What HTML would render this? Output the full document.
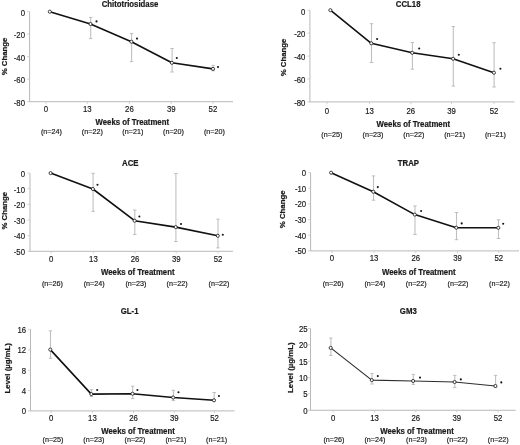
<!DOCTYPE html>
<html><head><meta charset="utf-8"><style>
html,body{margin:0;padding:0;background:#fff;}
svg{display:block;will-change:transform;}
text{font-family:"Liberation Sans", sans-serif;fill:#1a1a1a;}
text{stroke:#1a1a1a;stroke-width:0.18px;}
text.b{stroke:#1a1a1a;stroke-width:0.22px;}
</style></head><body>
<svg width="520" height="445" viewBox="0 0 520 445">
<rect width="520" height="445" fill="#fff"/>
<line x1="29.6" y1="11.6" x2="29.6" y2="101.7" stroke="#b8b8b8" stroke-width="1"/>
<line x1="29.1" y1="101.7" x2="233.0" y2="101.7" stroke="#b8b8b8" stroke-width="1"/>
<line x1="27.1" y1="11.60" x2="29.6" y2="11.60" stroke="#c8c8c8" stroke-width="0.8"/>
<text transform="translate(25.00,15.87) scale(0.92,1)" text-anchor="end" font-size="8.48">0</text>
<line x1="27.1" y1="34.12" x2="29.6" y2="34.12" stroke="#c8c8c8" stroke-width="0.8"/>
<text transform="translate(25.00,38.39) scale(0.92,1)" text-anchor="end" font-size="8.48">-20</text>
<line x1="27.1" y1="56.65" x2="29.6" y2="56.65" stroke="#c8c8c8" stroke-width="0.8"/>
<text transform="translate(25.00,60.92) scale(0.92,1)" text-anchor="end" font-size="8.48">-40</text>
<line x1="27.1" y1="79.17" x2="29.6" y2="79.17" stroke="#c8c8c8" stroke-width="0.8"/>
<text transform="translate(25.00,83.44) scale(0.92,1)" text-anchor="end" font-size="8.48">-60</text>
<line x1="27.1" y1="101.70" x2="29.6" y2="101.70" stroke="#c8c8c8" stroke-width="0.8"/>
<text transform="translate(25.00,105.97) scale(0.92,1)" text-anchor="end" font-size="8.48">-80</text>
<line x1="46.0" y1="101.7" x2="46.0" y2="103.9" stroke="#c8c8c8" stroke-width="0.8"/>
<text transform="translate(46.00,111.50) scale(0.92,1)" text-anchor="middle" font-size="8.48">0</text>
<line x1="87.3" y1="101.7" x2="87.3" y2="103.9" stroke="#c8c8c8" stroke-width="0.8"/>
<text transform="translate(87.30,111.50) scale(0.92,1)" text-anchor="middle" font-size="8.48">13</text>
<line x1="129.4" y1="101.7" x2="129.4" y2="103.9" stroke="#c8c8c8" stroke-width="0.8"/>
<text transform="translate(129.40,111.50) scale(0.92,1)" text-anchor="middle" font-size="8.48">26</text>
<line x1="171.2" y1="101.7" x2="171.2" y2="103.9" stroke="#c8c8c8" stroke-width="0.8"/>
<text transform="translate(171.20,111.50) scale(0.92,1)" text-anchor="middle" font-size="8.48">39</text>
<line x1="212.9" y1="101.7" x2="212.9" y2="103.9" stroke="#c8c8c8" stroke-width="0.8"/>
<text transform="translate(212.90,111.50) scale(0.92,1)" text-anchor="middle" font-size="8.48">52</text>
<text transform="translate(130.00,7.00) scale(0.94,1)" text-anchor="middle" font-size="8.30" font-weight="bold" class="b">Chitotriosidase</text>
<text transform="translate(132.30,124.60) scale(0.94,1)" text-anchor="middle" font-size="8.30" font-weight="bold" class="b">Weeks of Treatment</text>
<text transform="translate(51.45,134.20) scale(0.92,1)" text-anchor="middle" font-size="7.83">(n=24)</text>
<text transform="translate(92.30,134.20) scale(0.92,1)" text-anchor="middle" font-size="7.83">(n=22)</text>
<text transform="translate(132.85,134.20) scale(0.92,1)" text-anchor="middle" font-size="7.83">(n=21)</text>
<text transform="translate(173.50,134.20) scale(0.92,1)" text-anchor="middle" font-size="7.83">(n=20)</text>
<text transform="translate(214.40,134.20) scale(0.92,1)" text-anchor="middle" font-size="7.83">(n=20)</text>
<text transform="translate(6.9,56.5) rotate(-90)" text-anchor="middle" font-size="7.8" font-weight="bold" class="b">% Change</text>
<path d="M90.70 17.4 V38.6" stroke="#c0c0c0" stroke-width="1.1" fill="none"/>
<path d="M89.00 17.4 h3.4 M89.00 38.6 h3.4" stroke="#b8b8b8" stroke-width="0.9" fill="none"/>
<path d="M131.60 33.6 V61.6" stroke="#c0c0c0" stroke-width="1.1" fill="none"/>
<path d="M129.90 33.6 h3.4 M129.90 61.6 h3.4" stroke="#b8b8b8" stroke-width="0.9" fill="none"/>
<path d="M172.10 48.5 V72.0" stroke="#c0c0c0" stroke-width="1.1" fill="none"/>
<path d="M170.40 48.5 h3.4 M170.40 72.0 h3.4" stroke="#b8b8b8" stroke-width="0.9" fill="none"/>
<path d="M213.20 65.4 V70.8" stroke="#c0c0c0" stroke-width="1.1" fill="none"/>
<path d="M211.50 65.4 h3.4 M211.50 70.8 h3.4" stroke="#b8b8b8" stroke-width="0.9" fill="none"/>
<path d="M49.8 11.7 L90.5 24.0 L131.4 41.7 L171.9 62.8 L213.0 68.9" stroke="#111" stroke-width="1.6" fill="none" stroke-linejoin="round"/>
<circle cx="49.8" cy="11.7" r="1.55" fill="#fff" stroke="#1e1e1e" stroke-width="0.85"/>
<circle cx="90.5" cy="24.0" r="1.55" fill="#fff" stroke="#1e1e1e" stroke-width="0.85"/>
<circle cx="131.4" cy="41.7" r="1.55" fill="#fff" stroke="#1e1e1e" stroke-width="0.85"/>
<circle cx="171.9" cy="62.8" r="1.55" fill="#fff" stroke="#1e1e1e" stroke-width="0.85"/>
<circle cx="213.0" cy="68.9" r="1.55" fill="#fff" stroke="#1e1e1e" stroke-width="0.85"/>
<circle cx="96.5" cy="21.4" r="1.05" fill="#151515"/>
<circle cx="137.0" cy="38.6" r="1.05" fill="#151515"/>
<circle cx="176.8" cy="58.0" r="1.05" fill="#151515"/>
<circle cx="218.0" cy="67.0" r="1.05" fill="#151515"/>
<line x1="309.9" y1="10.25" x2="309.9" y2="101.9" stroke="#b8b8b8" stroke-width="1"/>
<line x1="309.4" y1="101.9" x2="514.5" y2="101.9" stroke="#b8b8b8" stroke-width="1"/>
<line x1="307.4" y1="10.25" x2="309.9" y2="10.25" stroke="#c8c8c8" stroke-width="0.8"/>
<text transform="translate(305.40,14.52) scale(0.92,1)" text-anchor="end" font-size="8.48">0</text>
<line x1="307.4" y1="33.16" x2="309.9" y2="33.16" stroke="#c8c8c8" stroke-width="0.8"/>
<text transform="translate(305.40,37.43) scale(0.92,1)" text-anchor="end" font-size="8.48">-20</text>
<line x1="307.4" y1="56.08" x2="309.9" y2="56.08" stroke="#c8c8c8" stroke-width="0.8"/>
<text transform="translate(305.40,60.34) scale(0.92,1)" text-anchor="end" font-size="8.48">-40</text>
<line x1="307.4" y1="78.99" x2="309.9" y2="78.99" stroke="#c8c8c8" stroke-width="0.8"/>
<text transform="translate(305.40,83.25) scale(0.92,1)" text-anchor="end" font-size="8.48">-60</text>
<line x1="307.4" y1="101.90" x2="309.9" y2="101.90" stroke="#c8c8c8" stroke-width="0.8"/>
<text transform="translate(305.40,106.17) scale(0.92,1)" text-anchor="end" font-size="8.48">-80</text>
<line x1="327.0" y1="101.9" x2="327.0" y2="104.10000000000001" stroke="#c8c8c8" stroke-width="0.8"/>
<text transform="translate(327.00,114.00) scale(0.92,1)" text-anchor="middle" font-size="8.48">0</text>
<line x1="369.5" y1="101.9" x2="369.5" y2="104.10000000000001" stroke="#c8c8c8" stroke-width="0.8"/>
<text transform="translate(369.50,114.00) scale(0.92,1)" text-anchor="middle" font-size="8.48">13</text>
<line x1="410.8" y1="101.9" x2="410.8" y2="104.10000000000001" stroke="#c8c8c8" stroke-width="0.8"/>
<text transform="translate(410.80,114.00) scale(0.92,1)" text-anchor="middle" font-size="8.48">26</text>
<line x1="451.5" y1="101.9" x2="451.5" y2="104.10000000000001" stroke="#c8c8c8" stroke-width="0.8"/>
<text transform="translate(451.50,114.00) scale(0.92,1)" text-anchor="middle" font-size="8.48">39</text>
<line x1="494.0" y1="101.9" x2="494.0" y2="104.10000000000001" stroke="#c8c8c8" stroke-width="0.8"/>
<text transform="translate(494.00,114.00) scale(0.92,1)" text-anchor="middle" font-size="8.48">52</text>
<text transform="translate(408.20,6.80) scale(0.94,1)" text-anchor="middle" font-size="8.30" font-weight="bold" class="b">CCL18</text>
<text transform="translate(413.25,126.90) scale(0.94,1)" text-anchor="middle" font-size="8.30" font-weight="bold" class="b">Weeks of Treatment</text>
<text transform="translate(331.85,137.20) scale(0.92,1)" text-anchor="middle" font-size="7.83">(n=25)</text>
<text transform="translate(373.00,137.20) scale(0.92,1)" text-anchor="middle" font-size="7.83">(n=23)</text>
<text transform="translate(413.80,137.20) scale(0.92,1)" text-anchor="middle" font-size="7.83">(n=22)</text>
<text transform="translate(454.70,137.20) scale(0.92,1)" text-anchor="middle" font-size="7.83">(n=21)</text>
<text transform="translate(495.45,137.20) scale(0.92,1)" text-anchor="middle" font-size="7.83">(n=21)</text>
<text transform="translate(285.7,57.5) rotate(-90)" text-anchor="middle" font-size="7.8" font-weight="bold" class="b">% Change</text>
<path d="M371.50 23.7 V62.5" stroke="#c0c0c0" stroke-width="1.1" fill="none"/>
<path d="M369.80 23.7 h3.4 M369.80 62.5 h3.4" stroke="#b8b8b8" stroke-width="0.9" fill="none"/>
<path d="M412.40 42.5 V69.2" stroke="#c0c0c0" stroke-width="1.1" fill="none"/>
<path d="M410.70 42.5 h3.4 M410.70 69.2 h3.4" stroke="#b8b8b8" stroke-width="0.9" fill="none"/>
<path d="M453.30 26.5 V86.1" stroke="#c0c0c0" stroke-width="1.1" fill="none"/>
<path d="M451.60 26.5 h3.4 M451.60 86.1 h3.4" stroke="#b8b8b8" stroke-width="0.9" fill="none"/>
<path d="M494.10 42.7 V87.0" stroke="#c0c0c0" stroke-width="1.1" fill="none"/>
<path d="M492.40 42.7 h3.4 M492.40 87.0 h3.4" stroke="#b8b8b8" stroke-width="0.9" fill="none"/>
<path d="M330.4 10.2 L371.3 43.3 L412.2 52.8 L453.1 58.8 L493.9 72.7" stroke="#111" stroke-width="1.6" fill="none" stroke-linejoin="round"/>
<circle cx="330.4" cy="10.2" r="1.55" fill="#fff" stroke="#1e1e1e" stroke-width="0.85"/>
<circle cx="371.3" cy="43.3" r="1.55" fill="#fff" stroke="#1e1e1e" stroke-width="0.85"/>
<circle cx="412.2" cy="52.8" r="1.55" fill="#fff" stroke="#1e1e1e" stroke-width="0.85"/>
<circle cx="453.1" cy="58.8" r="1.55" fill="#fff" stroke="#1e1e1e" stroke-width="0.85"/>
<circle cx="493.9" cy="72.7" r="1.55" fill="#fff" stroke="#1e1e1e" stroke-width="0.85"/>
<circle cx="377.1" cy="39.0" r="1.05" fill="#151515"/>
<circle cx="419.2" cy="48.5" r="1.05" fill="#151515"/>
<circle cx="458.8" cy="54.7" r="1.05" fill="#151515"/>
<circle cx="500.4" cy="68.8" r="1.05" fill="#151515"/>
<line x1="30.0" y1="173.1" x2="30.0" y2="251.3" stroke="#b8b8b8" stroke-width="1"/>
<line x1="29.5" y1="251.3" x2="232.9" y2="251.3" stroke="#b8b8b8" stroke-width="1"/>
<line x1="27.5" y1="173.10" x2="30.0" y2="173.10" stroke="#c8c8c8" stroke-width="0.8"/>
<text transform="translate(25.00,176.87) scale(0.92,1)" text-anchor="end" font-size="8.48">0</text>
<line x1="27.5" y1="188.74" x2="30.0" y2="188.74" stroke="#c8c8c8" stroke-width="0.8"/>
<text transform="translate(25.00,192.51) scale(0.92,1)" text-anchor="end" font-size="8.48">-10</text>
<line x1="27.5" y1="204.38" x2="30.0" y2="204.38" stroke="#c8c8c8" stroke-width="0.8"/>
<text transform="translate(25.00,208.15) scale(0.92,1)" text-anchor="end" font-size="8.48">-20</text>
<line x1="27.5" y1="220.02" x2="30.0" y2="220.02" stroke="#c8c8c8" stroke-width="0.8"/>
<text transform="translate(25.00,223.79) scale(0.92,1)" text-anchor="end" font-size="8.48">-30</text>
<line x1="27.5" y1="235.66" x2="30.0" y2="235.66" stroke="#c8c8c8" stroke-width="0.8"/>
<text transform="translate(25.00,239.43) scale(0.92,1)" text-anchor="end" font-size="8.48">-40</text>
<line x1="27.5" y1="251.30" x2="30.0" y2="251.30" stroke="#c8c8c8" stroke-width="0.8"/>
<text transform="translate(25.00,255.07) scale(0.92,1)" text-anchor="end" font-size="8.48">-50</text>
<line x1="51.25" y1="251.3" x2="51.25" y2="253.5" stroke="#c8c8c8" stroke-width="0.8"/>
<text transform="translate(51.25,261.70) scale(0.92,1)" text-anchor="middle" font-size="8.48">0</text>
<line x1="93.4" y1="251.3" x2="93.4" y2="253.5" stroke="#c8c8c8" stroke-width="0.8"/>
<text transform="translate(93.40,261.70) scale(0.92,1)" text-anchor="middle" font-size="8.48">13</text>
<line x1="135.0" y1="251.3" x2="135.0" y2="253.5" stroke="#c8c8c8" stroke-width="0.8"/>
<text transform="translate(135.00,261.70) scale(0.92,1)" text-anchor="middle" font-size="8.48">26</text>
<line x1="176.25" y1="251.3" x2="176.25" y2="253.5" stroke="#c8c8c8" stroke-width="0.8"/>
<text transform="translate(176.25,261.70) scale(0.92,1)" text-anchor="middle" font-size="8.48">39</text>
<line x1="218.0" y1="251.3" x2="218.0" y2="253.5" stroke="#c8c8c8" stroke-width="0.8"/>
<text transform="translate(218.00,261.70) scale(0.92,1)" text-anchor="middle" font-size="8.48">52</text>
<text transform="translate(130.25,165.90) scale(0.94,1)" text-anchor="middle" font-size="8.30" font-weight="bold" class="b">ACE</text>
<text transform="translate(137.75,274.50) scale(0.94,1)" text-anchor="middle" font-size="8.30" font-weight="bold" class="b">Weeks of Treatment</text>
<text transform="translate(52.45,286.30) scale(0.92,1)" text-anchor="middle" font-size="7.83">(n=26)</text>
<text transform="translate(94.20,286.30) scale(0.92,1)" text-anchor="middle" font-size="7.83">(n=24)</text>
<text transform="translate(135.90,286.30) scale(0.92,1)" text-anchor="middle" font-size="7.83">(n=23)</text>
<text transform="translate(177.10,286.30) scale(0.92,1)" text-anchor="middle" font-size="7.83">(n=22)</text>
<text transform="translate(219.00,286.30) scale(0.92,1)" text-anchor="middle" font-size="7.83">(n=22)</text>
<text transform="translate(7.1,210.7) rotate(-90)" text-anchor="middle" font-size="7.8" font-weight="bold" class="b">% Change</text>
<path d="M93.10 173.3 V211.4" stroke="#c0c0c0" stroke-width="1.1" fill="none"/>
<path d="M91.40 173.3 h3.4 M91.40 211.4 h3.4" stroke="#b8b8b8" stroke-width="0.9" fill="none"/>
<path d="M134.80 210.1 V234.5" stroke="#c0c0c0" stroke-width="1.1" fill="none"/>
<path d="M133.10 210.1 h3.4 M133.10 234.5 h3.4" stroke="#b8b8b8" stroke-width="0.9" fill="none"/>
<path d="M175.90 173.5 V241.5" stroke="#c0c0c0" stroke-width="1.1" fill="none"/>
<path d="M174.20 173.5 h3.4 M174.20 241.5 h3.4" stroke="#b8b8b8" stroke-width="0.9" fill="none"/>
<path d="M218.00 219.2 V247.9" stroke="#c0c0c0" stroke-width="1.1" fill="none"/>
<path d="M216.30 219.2 h3.4 M216.30 247.9 h3.4" stroke="#b8b8b8" stroke-width="0.9" fill="none"/>
<path d="M50.6 173.1 L92.9 189.0 L134.6 220.7 L175.7 227.1 L217.8 235.8" stroke="#111" stroke-width="1.6" fill="none" stroke-linejoin="round"/>
<circle cx="50.6" cy="173.1" r="1.55" fill="#fff" stroke="#1e1e1e" stroke-width="0.85"/>
<circle cx="92.9" cy="189.0" r="1.55" fill="#fff" stroke="#1e1e1e" stroke-width="0.85"/>
<circle cx="134.6" cy="220.7" r="1.55" fill="#fff" stroke="#1e1e1e" stroke-width="0.85"/>
<circle cx="175.7" cy="227.1" r="1.55" fill="#fff" stroke="#1e1e1e" stroke-width="0.85"/>
<circle cx="217.8" cy="235.8" r="1.55" fill="#fff" stroke="#1e1e1e" stroke-width="0.85"/>
<circle cx="97.5" cy="184.8" r="1.05" fill="#151515"/>
<circle cx="139.4" cy="216.5" r="1.05" fill="#151515"/>
<circle cx="181.0" cy="224.0" r="1.05" fill="#151515"/>
<circle cx="222.8" cy="234.8" r="1.05" fill="#151515"/>
<line x1="310.6" y1="172.6" x2="310.6" y2="250.9" stroke="#b8b8b8" stroke-width="1"/>
<line x1="310.1" y1="250.9" x2="519.0" y2="250.9" stroke="#b8b8b8" stroke-width="1"/>
<line x1="308.1" y1="172.60" x2="310.6" y2="172.60" stroke="#c8c8c8" stroke-width="0.8"/>
<text transform="translate(306.20,176.17) scale(0.92,1)" text-anchor="end" font-size="8.48">0</text>
<line x1="308.1" y1="188.26" x2="310.6" y2="188.26" stroke="#c8c8c8" stroke-width="0.8"/>
<text transform="translate(306.20,191.83) scale(0.92,1)" text-anchor="end" font-size="8.48">-10</text>
<line x1="308.1" y1="203.92" x2="310.6" y2="203.92" stroke="#c8c8c8" stroke-width="0.8"/>
<text transform="translate(306.20,207.49) scale(0.92,1)" text-anchor="end" font-size="8.48">-20</text>
<line x1="308.1" y1="219.58" x2="310.6" y2="219.58" stroke="#c8c8c8" stroke-width="0.8"/>
<text transform="translate(306.20,223.15) scale(0.92,1)" text-anchor="end" font-size="8.48">-30</text>
<line x1="308.1" y1="235.24" x2="310.6" y2="235.24" stroke="#c8c8c8" stroke-width="0.8"/>
<text transform="translate(306.20,238.81) scale(0.92,1)" text-anchor="end" font-size="8.48">-40</text>
<line x1="308.1" y1="250.90" x2="310.6" y2="250.90" stroke="#c8c8c8" stroke-width="0.8"/>
<text transform="translate(306.20,254.47) scale(0.92,1)" text-anchor="end" font-size="8.48">-50</text>
<line x1="331.9" y1="250.9" x2="331.9" y2="253.1" stroke="#c8c8c8" stroke-width="0.8"/>
<text transform="translate(331.90,261.40) scale(0.92,1)" text-anchor="middle" font-size="8.48">0</text>
<line x1="374.0" y1="250.9" x2="374.0" y2="253.1" stroke="#c8c8c8" stroke-width="0.8"/>
<text transform="translate(374.00,261.40) scale(0.92,1)" text-anchor="middle" font-size="8.48">13</text>
<line x1="415.75" y1="250.9" x2="415.75" y2="253.1" stroke="#c8c8c8" stroke-width="0.8"/>
<text transform="translate(415.75,261.40) scale(0.92,1)" text-anchor="middle" font-size="8.48">26</text>
<line x1="457.5" y1="250.9" x2="457.5" y2="253.1" stroke="#c8c8c8" stroke-width="0.8"/>
<text transform="translate(457.50,261.40) scale(0.92,1)" text-anchor="middle" font-size="8.48">39</text>
<line x1="498.7" y1="250.9" x2="498.7" y2="253.1" stroke="#c8c8c8" stroke-width="0.8"/>
<text transform="translate(498.70,261.40) scale(0.92,1)" text-anchor="middle" font-size="8.48">52</text>
<text transform="translate(408.40,166.30) scale(0.94,1)" text-anchor="middle" font-size="8.30" font-weight="bold" class="b">TRAP</text>
<text transform="translate(418.80,274.50) scale(0.94,1)" text-anchor="middle" font-size="8.30" font-weight="bold" class="b">Weeks of Treatment</text>
<text transform="translate(333.15,286.00) scale(0.92,1)" text-anchor="middle" font-size="7.83">(n=26)</text>
<text transform="translate(374.90,286.00) scale(0.92,1)" text-anchor="middle" font-size="7.83">(n=24)</text>
<text transform="translate(416.25,286.00) scale(0.92,1)" text-anchor="middle" font-size="7.83">(n=22)</text>
<text transform="translate(458.00,286.00) scale(0.92,1)" text-anchor="middle" font-size="7.83">(n=22)</text>
<text transform="translate(499.50,286.00) scale(0.92,1)" text-anchor="middle" font-size="7.83">(n=22)</text>
<text transform="translate(285.1,209.3) rotate(-90)" text-anchor="middle" font-size="7.8" font-weight="bold" class="b">% Change</text>
<path d="M373.50 175.9 V200.2" stroke="#c0c0c0" stroke-width="1.1" fill="none"/>
<path d="M371.80 175.9 h3.4 M371.80 200.2 h3.4" stroke="#b8b8b8" stroke-width="0.9" fill="none"/>
<path d="M415.00 205.9 V234.5" stroke="#c0c0c0" stroke-width="1.1" fill="none"/>
<path d="M413.30 205.9 h3.4 M413.30 234.5 h3.4" stroke="#b8b8b8" stroke-width="0.9" fill="none"/>
<path d="M456.50 212.5 V239.7" stroke="#c0c0c0" stroke-width="1.1" fill="none"/>
<path d="M454.80 212.5 h3.4 M454.80 239.7 h3.4" stroke="#b8b8b8" stroke-width="0.9" fill="none"/>
<path d="M498.50 219.8 V238.5" stroke="#c0c0c0" stroke-width="1.1" fill="none"/>
<path d="M496.80 219.8 h3.4 M496.80 238.5 h3.4" stroke="#b8b8b8" stroke-width="0.9" fill="none"/>
<path d="M331.1 172.7 L373.3 191.7 L414.8 214.6 L456.3 227.7 L498.3 227.8" stroke="#111" stroke-width="1.6" fill="none" stroke-linejoin="round"/>
<circle cx="331.1" cy="172.7" r="1.55" fill="#fff" stroke="#1e1e1e" stroke-width="0.85"/>
<circle cx="373.3" cy="191.7" r="1.55" fill="#fff" stroke="#1e1e1e" stroke-width="0.85"/>
<circle cx="414.8" cy="214.6" r="1.55" fill="#fff" stroke="#1e1e1e" stroke-width="0.85"/>
<circle cx="456.3" cy="227.7" r="1.55" fill="#fff" stroke="#1e1e1e" stroke-width="0.85"/>
<circle cx="498.3" cy="227.8" r="1.55" fill="#fff" stroke="#1e1e1e" stroke-width="0.85"/>
<circle cx="377.8" cy="187.1" r="1.05" fill="#151515"/>
<circle cx="421.1" cy="211.0" r="1.05" fill="#151515"/>
<circle cx="461.7" cy="223.4" r="1.05" fill="#151515"/>
<circle cx="503.2" cy="223.7" r="1.05" fill="#151515"/>
<line x1="30.5" y1="329.4" x2="30.5" y2="410.9" stroke="#b8b8b8" stroke-width="1"/>
<line x1="30.0" y1="410.9" x2="234.5" y2="410.9" stroke="#b8b8b8" stroke-width="1"/>
<line x1="28.0" y1="329.40" x2="30.5" y2="329.40" stroke="#c8c8c8" stroke-width="0.8"/>
<text transform="translate(26.20,332.97) scale(0.92,1)" text-anchor="end" font-size="8.48">16</text>
<line x1="28.0" y1="349.77" x2="30.5" y2="349.77" stroke="#c8c8c8" stroke-width="0.8"/>
<text transform="translate(26.20,353.34) scale(0.92,1)" text-anchor="end" font-size="8.48">12</text>
<line x1="28.0" y1="370.15" x2="30.5" y2="370.15" stroke="#c8c8c8" stroke-width="0.8"/>
<text transform="translate(26.20,373.72) scale(0.92,1)" text-anchor="end" font-size="8.48">8</text>
<line x1="28.0" y1="390.52" x2="30.5" y2="390.52" stroke="#c8c8c8" stroke-width="0.8"/>
<text transform="translate(26.20,394.09) scale(0.92,1)" text-anchor="end" font-size="8.48">4</text>
<line x1="28.0" y1="410.90" x2="30.5" y2="410.90" stroke="#c8c8c8" stroke-width="0.8"/>
<text transform="translate(26.20,414.47) scale(0.92,1)" text-anchor="end" font-size="8.48">0</text>
<line x1="51.1" y1="410.9" x2="51.1" y2="413.09999999999997" stroke="#c8c8c8" stroke-width="0.8"/>
<text transform="translate(51.10,421.30) scale(0.92,1)" text-anchor="middle" font-size="8.48">0</text>
<line x1="92.4" y1="410.9" x2="92.4" y2="413.09999999999997" stroke="#c8c8c8" stroke-width="0.8"/>
<text transform="translate(92.40,421.30) scale(0.92,1)" text-anchor="middle" font-size="8.48">13</text>
<line x1="133.5" y1="410.9" x2="133.5" y2="413.09999999999997" stroke="#c8c8c8" stroke-width="0.8"/>
<text transform="translate(133.50,421.30) scale(0.92,1)" text-anchor="middle" font-size="8.48">26</text>
<line x1="174.3" y1="410.9" x2="174.3" y2="413.09999999999997" stroke="#c8c8c8" stroke-width="0.8"/>
<text transform="translate(174.30,421.30) scale(0.92,1)" text-anchor="middle" font-size="8.48">39</text>
<line x1="214.5" y1="410.9" x2="214.5" y2="413.09999999999997" stroke="#c8c8c8" stroke-width="0.8"/>
<text transform="translate(214.50,421.30) scale(0.92,1)" text-anchor="middle" font-size="8.48">52</text>
<text transform="translate(129.60,313.80) scale(0.94,1)" text-anchor="middle" font-size="8.30" font-weight="bold" class="b">GL-1</text>
<text transform="translate(138.00,433.70) scale(0.94,1)" text-anchor="middle" font-size="8.30" font-weight="bold" class="b">Weeks of Treatment</text>
<text transform="translate(53.00,441.90) scale(0.92,1)" text-anchor="middle" font-size="7.83">(n=25)</text>
<text transform="translate(93.80,441.90) scale(0.92,1)" text-anchor="middle" font-size="7.83">(n=23)</text>
<text transform="translate(135.00,441.90) scale(0.92,1)" text-anchor="middle" font-size="7.83">(n=22)</text>
<text transform="translate(175.90,441.90) scale(0.92,1)" text-anchor="middle" font-size="7.83">(n=21)</text>
<text transform="translate(216.60,441.90) scale(0.92,1)" text-anchor="middle" font-size="7.83">(n=21)</text>
<text transform="translate(10.0,368.25) rotate(-90)" text-anchor="middle" font-size="7.8" font-weight="bold" class="b">Level (µg/mL)</text>
<path d="M50.50 330.8 V358.3" stroke="#c0c0c0" stroke-width="1.1" fill="none"/>
<path d="M48.80 330.8 h3.4 M48.80 358.3 h3.4" stroke="#b8b8b8" stroke-width="0.9" fill="none"/>
<path d="M91.50 389.7 V396.5" stroke="#c0c0c0" stroke-width="1.1" fill="none"/>
<path d="M89.80 389.7 h3.4 M89.80 396.5 h3.4" stroke="#b8b8b8" stroke-width="0.9" fill="none"/>
<path d="M132.70 386.2 V398.6" stroke="#c0c0c0" stroke-width="1.1" fill="none"/>
<path d="M131.00 386.2 h3.4 M131.00 398.6 h3.4" stroke="#b8b8b8" stroke-width="0.9" fill="none"/>
<path d="M173.40 390.3 V400.6" stroke="#c0c0c0" stroke-width="1.1" fill="none"/>
<path d="M171.70 390.3 h3.4 M171.70 400.6 h3.4" stroke="#b8b8b8" stroke-width="0.9" fill="none"/>
<path d="M214.20 392.5 V401.0" stroke="#c0c0c0" stroke-width="1.1" fill="none"/>
<path d="M212.50 392.5 h3.4 M212.50 401.0 h3.4" stroke="#b8b8b8" stroke-width="0.9" fill="none"/>
<path d="M50.3 349.6 L91.3 394.1 L132.5 393.7 L173.2 397.5 L214.0 400.3" stroke="#111" stroke-width="1.6" fill="none" stroke-linejoin="round"/>
<circle cx="50.3" cy="349.6" r="1.55" fill="#fff" stroke="#1e1e1e" stroke-width="0.85"/>
<circle cx="91.3" cy="394.1" r="1.55" fill="#fff" stroke="#1e1e1e" stroke-width="0.85"/>
<circle cx="132.5" cy="393.7" r="1.55" fill="#fff" stroke="#1e1e1e" stroke-width="0.85"/>
<circle cx="173.2" cy="397.5" r="1.55" fill="#fff" stroke="#1e1e1e" stroke-width="0.85"/>
<circle cx="214.0" cy="400.3" r="1.55" fill="#fff" stroke="#1e1e1e" stroke-width="0.85"/>
<circle cx="97.2" cy="390.0" r="1.05" fill="#151515"/>
<circle cx="137.4" cy="390.0" r="1.05" fill="#151515"/>
<circle cx="178.5" cy="392.2" r="1.05" fill="#151515"/>
<circle cx="218.9" cy="396.0" r="1.05" fill="#151515"/>
<line x1="310.5" y1="328.5" x2="310.5" y2="410.25" stroke="#b8b8b8" stroke-width="1"/>
<line x1="310.0" y1="410.25" x2="515.75" y2="410.25" stroke="#b8b8b8" stroke-width="1"/>
<line x1="308.0" y1="328.50" x2="310.5" y2="328.50" stroke="#c8c8c8" stroke-width="0.8"/>
<text transform="translate(307.60,331.87) scale(0.92,1)" text-anchor="end" font-size="8.48">25</text>
<line x1="308.0" y1="344.85" x2="310.5" y2="344.85" stroke="#c8c8c8" stroke-width="0.8"/>
<text transform="translate(307.60,348.22) scale(0.92,1)" text-anchor="end" font-size="8.48">20</text>
<line x1="308.0" y1="361.20" x2="310.5" y2="361.20" stroke="#c8c8c8" stroke-width="0.8"/>
<text transform="translate(307.60,364.57) scale(0.92,1)" text-anchor="end" font-size="8.48">15</text>
<line x1="308.0" y1="377.55" x2="310.5" y2="377.55" stroke="#c8c8c8" stroke-width="0.8"/>
<text transform="translate(307.60,380.92) scale(0.92,1)" text-anchor="end" font-size="8.48">10</text>
<line x1="308.0" y1="393.90" x2="310.5" y2="393.90" stroke="#c8c8c8" stroke-width="0.8"/>
<text transform="translate(307.60,397.27) scale(0.92,1)" text-anchor="end" font-size="8.48">5</text>
<line x1="308.0" y1="410.25" x2="310.5" y2="410.25" stroke="#c8c8c8" stroke-width="0.8"/>
<text transform="translate(307.60,413.62) scale(0.92,1)" text-anchor="end" font-size="8.48">0</text>
<line x1="333.1" y1="410.25" x2="333.1" y2="412.45" stroke="#c8c8c8" stroke-width="0.8"/>
<text transform="translate(333.10,421.40) scale(0.92,1)" text-anchor="middle" font-size="8.48">0</text>
<line x1="374.5" y1="410.25" x2="374.5" y2="412.45" stroke="#c8c8c8" stroke-width="0.8"/>
<text transform="translate(374.50,421.40) scale(0.92,1)" text-anchor="middle" font-size="8.48">13</text>
<line x1="415.75" y1="410.25" x2="415.75" y2="412.45" stroke="#c8c8c8" stroke-width="0.8"/>
<text transform="translate(415.75,421.40) scale(0.92,1)" text-anchor="middle" font-size="8.48">26</text>
<line x1="456.75" y1="410.25" x2="456.75" y2="412.45" stroke="#c8c8c8" stroke-width="0.8"/>
<text transform="translate(456.75,421.40) scale(0.92,1)" text-anchor="middle" font-size="8.48">39</text>
<line x1="498.0" y1="410.25" x2="498.0" y2="412.45" stroke="#c8c8c8" stroke-width="0.8"/>
<text transform="translate(498.00,421.40) scale(0.92,1)" text-anchor="middle" font-size="8.48">52</text>
<text transform="translate(408.30,313.80) scale(0.94,1)" text-anchor="middle" font-size="8.30" font-weight="bold" class="b">GM3</text>
<text transform="translate(417.00,433.70) scale(0.94,1)" text-anchor="middle" font-size="8.30" font-weight="bold" class="b">Weeks of Treatment</text>
<text transform="translate(333.90,441.90) scale(0.92,1)" text-anchor="middle" font-size="7.83">(n=26)</text>
<text transform="translate(374.90,441.90) scale(0.92,1)" text-anchor="middle" font-size="7.83">(n=24)</text>
<text transform="translate(416.50,441.90) scale(0.92,1)" text-anchor="middle" font-size="7.83">(n=23)</text>
<text transform="translate(457.25,441.90) scale(0.92,1)" text-anchor="middle" font-size="7.83">(n=22)</text>
<text transform="translate(498.25,441.90) scale(0.92,1)" text-anchor="middle" font-size="7.83">(n=22)</text>
<text transform="translate(293.3,367.7) rotate(-90)" text-anchor="middle" font-size="7.8" font-weight="bold" class="b">Level (µg/mL)</text>
<path d="M330.90 338.1 V355.4" stroke="#c0c0c0" stroke-width="1.1" fill="none"/>
<path d="M329.20 338.1 h3.4 M329.20 355.4 h3.4" stroke="#b8b8b8" stroke-width="0.9" fill="none"/>
<path d="M372.00 373.4 V384.0" stroke="#c0c0c0" stroke-width="1.1" fill="none"/>
<path d="M370.30 373.4 h3.4 M370.30 384.0 h3.4" stroke="#b8b8b8" stroke-width="0.9" fill="none"/>
<path d="M413.30 374.4 V384.5" stroke="#c0c0c0" stroke-width="1.1" fill="none"/>
<path d="M411.60 374.4 h3.4 M411.60 384.5 h3.4" stroke="#b8b8b8" stroke-width="0.9" fill="none"/>
<path d="M454.80 375.4 V387.6" stroke="#c0c0c0" stroke-width="1.1" fill="none"/>
<path d="M453.10 375.4 h3.4 M453.10 387.6 h3.4" stroke="#b8b8b8" stroke-width="0.9" fill="none"/>
<path d="M495.60 375.4 V387.5" stroke="#c0c0c0" stroke-width="1.1" fill="none"/>
<path d="M493.90 375.4 h3.4 M493.90 387.5 h3.4" stroke="#b8b8b8" stroke-width="0.9" fill="none"/>
<path d="M330.7 347.9 L371.8 380.1 L413.1 381.0 L454.6 382.0 L495.4 386.0" stroke="#2e2e2e" stroke-width="1.2" fill="none" stroke-linejoin="round"/>
<circle cx="330.7" cy="347.9" r="1.55" fill="#fff" stroke="#1e1e1e" stroke-width="0.85"/>
<circle cx="371.8" cy="380.1" r="1.55" fill="#fff" stroke="#1e1e1e" stroke-width="0.85"/>
<circle cx="413.1" cy="381.0" r="1.55" fill="#fff" stroke="#1e1e1e" stroke-width="0.85"/>
<circle cx="454.6" cy="382.0" r="1.55" fill="#fff" stroke="#1e1e1e" stroke-width="0.85"/>
<circle cx="495.4" cy="386.0" r="1.55" fill="#fff" stroke="#1e1e1e" stroke-width="0.85"/>
<circle cx="377.8" cy="376.1" r="1.05" fill="#151515"/>
<circle cx="420.0" cy="377.6" r="1.05" fill="#151515"/>
<circle cx="460.8" cy="379.4" r="1.05" fill="#151515"/>
<circle cx="501.3" cy="382.4" r="1.05" fill="#151515"/>
</svg>
</body></html>
